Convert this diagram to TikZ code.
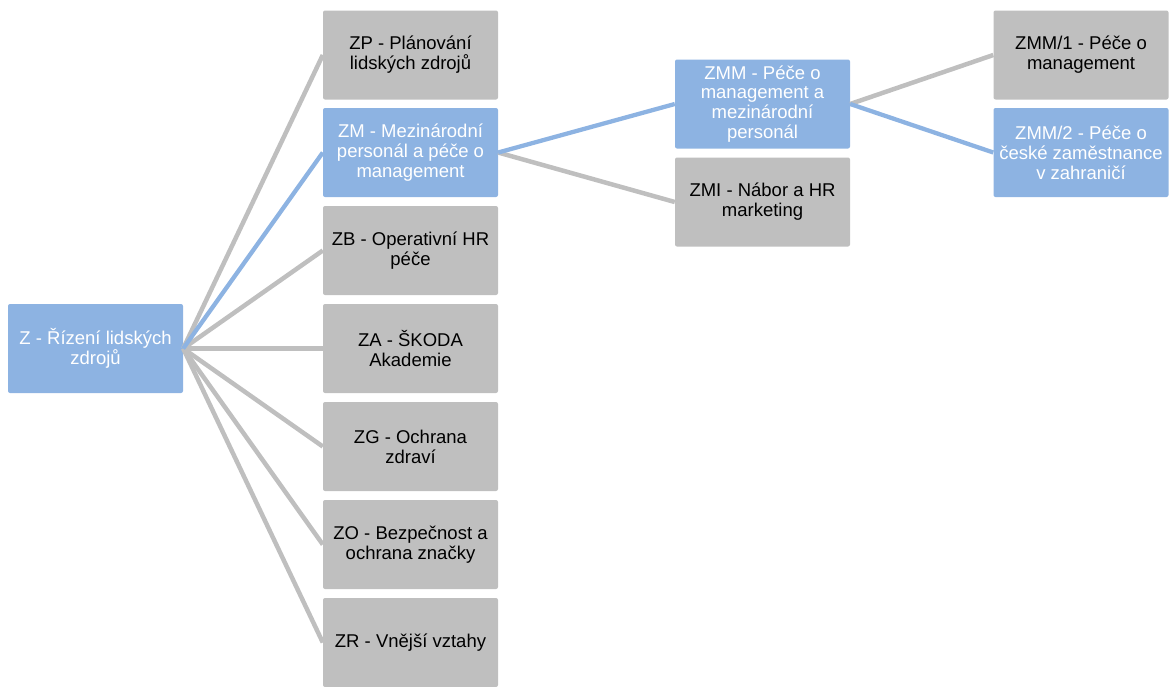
\documentclass[tikz,border=0pt]{standalone}
\usepackage{fontspec}
\setmainfont{Liberation Sans}
\definecolor{boxblue}{HTML}{8DB3E2}
\definecolor{boxgrey}{HTML}{BFBFBF}
\tikzset{
  box/.style={rectangle, rounded corners=2pt, minimum width=175pt, minimum height=89pt, inner sep=0pt, align=center, font=\fontsize{18.5}{19.8}\selectfont},
  gbox/.style={box, fill=boxgrey, text=black},
  bbox/.style={box, fill=boxblue, text=white},
  gline/.style={draw=boxgrey, line width=4.5pt},
  bline/.style={draw=boxblue, line width=4.3pt}
}
\begin{document}
\begin{tikzpicture}[x=1pt,y=-1pt]
\useasboundingbox (0,0) rectangle (1170,686);
\node[bbox] (Z) at (95.5,348.5) {Z - Řízení lidských\\zdrojů};
\node[gbox] (ZP) at (410.5,55) {ZP - Plánování\\lidských zdrojů};
\node[bbox] (ZM) at (410.5,152.5) {ZM - Mezinárodní\\personál a péče o\\management};
\node[gbox] (ZB) at (410.5,250.5) {ZB - Operativní HR\\péče};
\node[gbox] (ZA) at (410.5,348.5) {ZA - ŠKODA\\Akademie};
\node[gbox] (ZG) at (410.5,446.5) {ZG - Ochrana\\zdraví};
\node[gbox] (ZO) at (410.5,544.5) {ZO - Bezpečnost a\\ochrana značky};
\node[gbox] (ZR) at (410.5,642.5) {ZR - Vnější vztahy};
\node[bbox] (ZMM) at (762.5,104) {ZMM - Péče o\\management a\\mezinárodní\\personál};
\node[gbox] (ZMI) at (762.5,202) {ZMI - Nábor a HR\\marketing};
\node[gbox] (ZMM1) at (1081,55) {ZMM/1 - Péče o\\management};
\node[bbox] (ZMM2) at (1081,152.5) {ZMM/2 - Péče o\\české zaměstnance\\v zahraničí};
\path[gline] (Z.east) -- (ZP.west);
\path[gline] (Z.east) -- (ZB.west);
\path[gline] (Z.east) -- (ZA.west);
\path[gline] (Z.east) -- (ZG.west);
\path[gline] (Z.east) -- (ZO.west);
\path[gline] (Z.east) -- (ZR.west);
\path[bline] (Z.east) -- (ZM.west);
\path[gline] (ZM.east) -- (ZMI.west);
\path[bline] (ZM.east) -- (ZMM.west);
\path[gline] (ZMM.east) -- (ZMM1.west);
\path[bline] (ZMM.east) -- (ZMM2.west);
\end{tikzpicture}
\end{document}
